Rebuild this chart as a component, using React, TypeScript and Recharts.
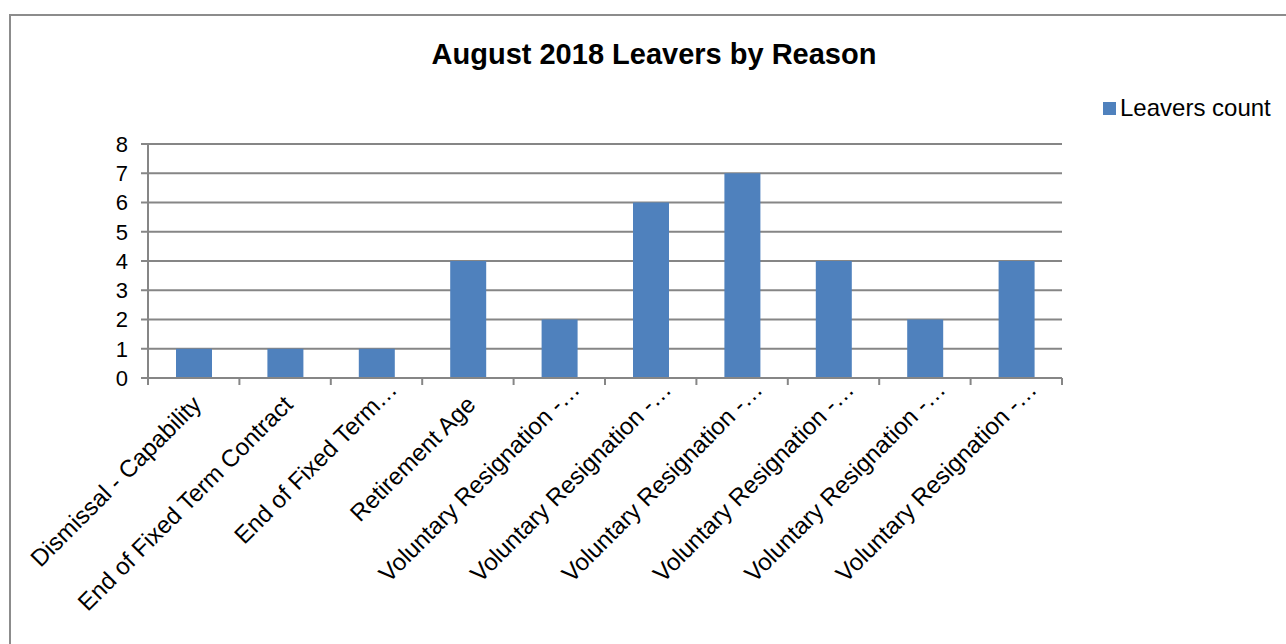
import React from 'react';
import { BarChart, Bar, XAxis, YAxis, CartesianGrid } from 'recharts';

const reasons = [
  'Dismissal - Capability',
  'End of Fixed Term Contract',
  'End of Fixed Term…',
  'Retirement Age',
  'Voluntary Resignation -…',
  'Voluntary Resignation -…',
  'Voluntary Resignation -…',
  'Voluntary Resignation -…',
  'Voluntary Resignation -…',
  'Voluntary Resignation -…',
];
const leaversCount = [1, 1, 1, 4, 2, 6, 7, 4, 2, 4];
const yTicks = [0, 1, 2, 3, 4, 5, 6, 7, 8];

const chartData = reasons.map((reason, i) => ({ reason, count: leaversCount[i] }));

const W = 1286;
const H = 644;
const PLOT_LEFT = 148;
const PLOT_RIGHT = 1062;
const PLOT_TOP = 144;
const PLOT_BOTTOM = 378;
const Y_AXIS_W = 60;
const X_AXIS_H = 40;
const BAND = (PLOT_RIGHT - PLOT_LEFT) / reasons.length;
const FONT = '"Liberation Sans", Arial, sans-serif';
const GRID = '#868686';

const CategoryTick = (props: any) => {
  const { x, index, payload } = props;
  const label: string = payload.value;
  const cut = label.endsWith('…');
  const tx = x + (cut ? 22 : 9);
  const ty = PLOT_BOTTOM + (cut ? 13 : 28);
  const left = x - BAND / 2;
  return (
    <g>
      <line x1={left} y1={PLOT_BOTTOM} x2={left} y2={PLOT_BOTTOM + 7} stroke={GRID} strokeWidth={2} />
      {index === reasons.length - 1 && (
        <line x1={x + BAND / 2} y1={PLOT_BOTTOM} x2={x + BAND / 2} y2={PLOT_BOTTOM + 7} stroke={GRID} strokeWidth={2} />
      )}
      <text
        x={tx}
        y={ty}
        textAnchor="end"
        transform={`rotate(-45 ${tx} ${ty})`}
        fontSize={24}
        fontFamily={FONT}
        fill="#000"
      >
        {label}
      </text>
    </g>
  );
};

export default function App() {
  return (
    <div style={{ position: 'fixed', left: 0, top: 0, width: W, height: H, overflow: 'hidden', background: '#fff' }}>
      <div
        style={{
          position: 'absolute',
          left: 9,
          top: 14,
          width: 1400,
          height: 800,
          border: '2px solid #8c8c8c',
        }}
      />
      <BarChart
        width={W}
        height={H}
        data={chartData}
        margin={{ top: PLOT_TOP, right: W - PLOT_RIGHT, left: PLOT_LEFT - Y_AXIS_W, bottom: H - PLOT_BOTTOM - X_AXIS_H }}
        style={{ position: 'absolute', left: 0, top: 0 }}
      >
        <CartesianGrid vertical={false} stroke={GRID} strokeWidth={2} />
        <XAxis
          dataKey="reason"
          height={X_AXIS_H}
          interval={0}
          tickLine={false}
          axisLine={{ stroke: GRID, strokeWidth: 2 }}
          tick={<CategoryTick />}
        />
        <YAxis
          width={Y_AXIS_W}
          domain={[0, 8]}
          ticks={yTicks}
          interval={0}
          tickSize={7}
          tickMargin={13}
          tickLine={{ stroke: GRID, strokeWidth: 2 }}
          axisLine={{ stroke: GRID, strokeWidth: 2 }}
          tick={{ fontSize: 22, fill: '#000', fontFamily: FONT }}
        />
        <Bar dataKey="count" fill="#4F81BD" barSize={36} isAnimationActive={false} />
      </BarChart>
      <div
        style={{
          position: 'absolute',
          left: 0,
          width: 1308,
          top: 37,
          textAlign: 'center',
          fontFamily: FONT,
          fontWeight: 'bold',
          fontSize: 29,
          lineHeight: '34px',
          color: '#000',
        }}
      >
        August 2018 Leavers by Reason
      </div>
      <div
        style={{
          position: 'absolute',
          left: 1103,
          top: 94,
          display: 'flex',
          alignItems: 'center',
          fontFamily: FONT,
          fontSize: 24,
          lineHeight: '28px',
          color: '#000',
          whiteSpace: 'nowrap',
        }}
      >
        <span style={{ display: 'inline-block', width: 13, height: 13, background: '#4F81BD', marginRight: 4 }} />
        Leavers count
      </div>
    </div>
  );
}
